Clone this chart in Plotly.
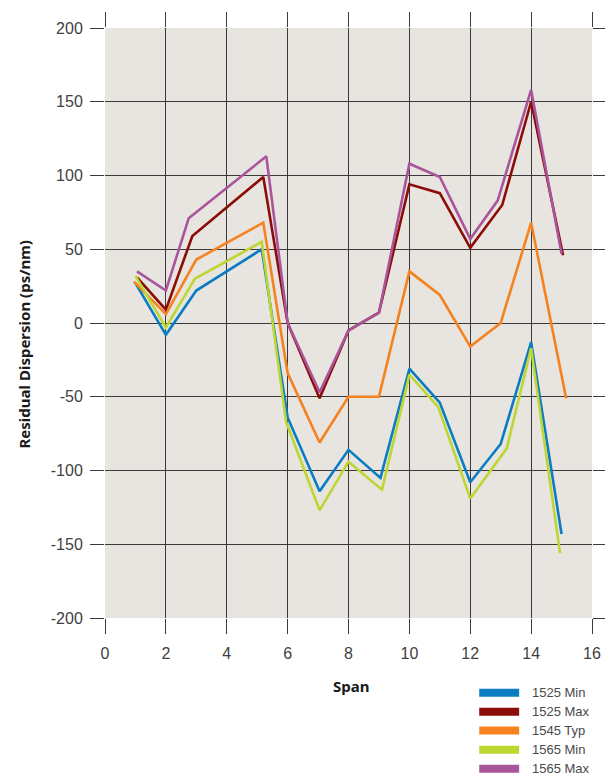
import plotly.graph_objects as go

# ---- data ----
series_names = ["1525 Min", "1525 Max", "1545 Typ", "1565 Min", "1565 Max"]
series_colors = ["#0a7cc1", "#8c0c07", "#f5821f", "#bdd631", "#a8559b"]

x_1525_min = [1.0, 2.0, 3.0, 5.15, 6.0, 7.05, 8.0, 9.05, 10.0, 11.0, 12.0, 13.0, 14.0, 15.0]
y_1525_min = [27, -8, 22, 50, -64, -114, -86, -105, -31, -54, -108, -82, -13, -143]

x_1525_max = [1.05, 2.0, 2.87, 5.2, 6.0, 7.05, 8.0, 9.0, 10.0, 11.0, 12.0, 13.05, 14.0, 15.05]
y_1525_max = [31, 9, 59, 99, 0, -51, -5, 7, 94, 88, 51, 80, 150, 46]

x_1545_typ = [0.95, 2.0, 3.0, 5.2, 6.0, 7.05, 8.0, 9.0, 10.0, 11.0, 12.0, 13.0, 14.0, 15.15]
y_1545_typ = [28, 6, 43, 68, -34, -81, -50, -50, 35, 19, -16, 0, 68, -51]

x_1565_min = [1.0, 2.0, 2.95, 5.15, 5.95, 7.05, 8.0, 9.1, 10.0, 10.95, 12.0, 13.2, 14.0, 14.95]
y_1565_min = [32, -3, 30, 55, -67, -127, -94, -113, -35, -57, -119, -85, -17, -156]

x_1565_max = [1.05, 2.0, 2.75, 5.3, 6.0, 7.05, 8.0, 9.0, 10.0, 11.0, 12.0, 12.9, 14.0, 15.0]
y_1565_max = [35, 22, 71, 113, 0, -47, -5, 7, 108, 99, 57, 83, 158, 47]

x_ticks = [0, 2, 4, 6, 8, 10, 12, 14, 16]
y_ticks = [-200, -150, -100, -50, 0, 50, 100, 150, 200]

xs = [x_1525_min, x_1525_max, x_1545_typ, x_1565_min, x_1565_max]
ys = [y_1525_min, y_1525_max, y_1545_typ, y_1565_min, y_1565_max]

# ---- layout geometry (pixels); the page body adds an 8px offset ----
OFF = 8
W, H = 605, 771
L, R, T, B = 97, 20, 15, 161
pw, ph = W - L - R, H - T - B


def px_x(p):
    return (p - OFF - L) / pw


def px_y(p):
    return (OFF + T + ph - p) / ph


fig = go.Figure()
for name, col, x, y in zip(series_names, series_colors, xs, ys):
    fig.add_trace(go.Scatter(x=x, y=y, mode="lines", name=name,
                             line=dict(color=col, width=2.6),
                             showlegend=False, hoverinfo="x+y+name"))

grid_col = "#3a3a3a"
tick_font = dict(family="Liberation Sans, Arial, sans-serif", size=16, color="#3f3f3f")

fig.update_layout(
    width=W, height=H,
    margin=dict(l=L, r=R, t=T, b=B, pad=0),
    paper_bgcolor="white",
    plot_bgcolor="#e8e5e1",
    showlegend=False,
    xaxis=dict(range=[0, 16], tickvals=x_ticks, ticktext=[str(v) for v in x_ticks],
               showgrid=True, gridcolor=grid_col, gridwidth=1, zeroline=False,
               showline=False, ticks="outside", ticklen=15, tickwidth=1, tickcolor=grid_col,
               mirror="ticks", tickfont=tick_font, ticklabelstandoff=6),
    yaxis=dict(range=[-200, 200], tickvals=y_ticks, ticktext=[str(v) for v in y_ticks],
               showgrid=True, gridcolor=grid_col, gridwidth=1, zeroline=False,
               showline=False, ticks="outside", ticklen=14, tickwidth=1, tickcolor=grid_col,
               mirror="ticks", tickfont=tick_font, ticklabelstandoff=4),
)

title_font = dict(family="Noto Sans, DejaVu Sans, sans-serif", size=15, color="#1a1a1a")
fig.add_annotation(text="<b>Span</b>", xref="paper", yref="paper",
                   x=px_x(352), y=px_y(687), showarrow=False, font=title_font,
                   xanchor="center", yanchor="middle")
fig.add_annotation(text="<b>Residual Dispersion (ps/nm)</b>", xref="paper", yref="paper",
                   x=px_x(24), y=px_y(342), showarrow=False, font=title_font,
                   textangle=-90, xanchor="center", yanchor="middle")

# ---- legend (swatches + labels) ----
leg_y = [693.3, 712.5, 731.5, 750.8, 770]
for name, col, cy in zip(series_names, series_colors, leg_y):
    fig.add_shape(type="rect", xref="paper", yref="paper",
                  x0=px_x(480), x1=px_x(520), y0=px_y(cy - 4), y1=px_y(cy + 4),
                  fillcolor=col, line=dict(width=0))
    fig.add_annotation(text=name, xref="paper", yref="paper",
                       x=px_x(531), y=px_y(cy), showarrow=False,
                       xanchor="left", yanchor="middle",
                       font=dict(family="Liberation Sans, Arial, sans-serif", size=13, color="#4a4a4a"))

fig.write_html("out.html")
